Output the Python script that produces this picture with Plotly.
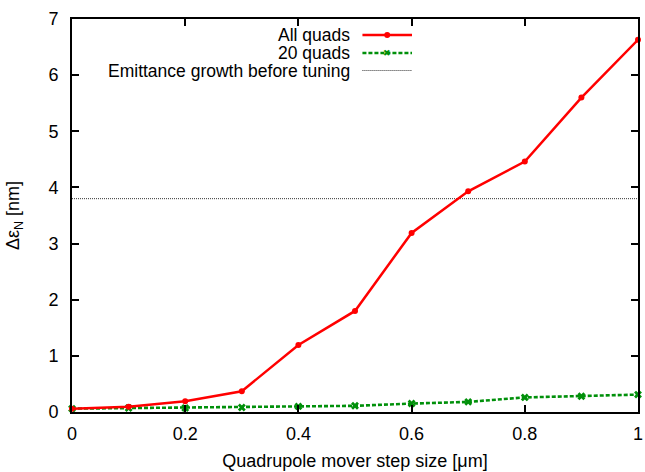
import plotly.graph_objects as go

step_size = [0.0, 0.1, 0.2, 0.3, 0.4, 0.5, 0.6, 0.7, 0.8, 0.9, 1.0]
all_quads = [0.06, 0.095, 0.19, 0.37, 1.195, 1.80, 3.19, 3.93, 4.46, 5.60, 6.63]
quads20 = [0.06, 0.07, 0.07, 0.08, 0.10, 0.11, 0.15, 0.18, 0.26, 0.28, 0.31]
growth_before_tuning = 3.80

x_ticks = [0, 0.2, 0.4, 0.6, 0.8, 1]
x_tick_labels = ["0", "0.2", "0.4", "0.6", "0.8", "1"]
y_ticks = [0, 1, 2, 3, 4, 5, 6, 7]

legend_labels = ["All quads", "20 quads", "Emittance growth before tuning"]

FONT = "Liberation Sans, Arial, Helvetica, sans-serif"
FS = 18
LFS = 17.5
RED = "#ff0000"
GREEN = "#00900a"

fig = go.Figure()

fig.add_trace(go.Scatter(
    x=[step_size[0], step_size[-1]], y=[growth_before_tuning, growth_before_tuning],
    mode="lines", line=dict(color="#333333", width=1, dash="1px,1px"),
    showlegend=False, hoverinfo="skip"))

fig.add_trace(go.Scatter(
    x=step_size, y=quads20, mode="lines+markers",
    line=dict(color=GREEN, width=2.6, dash="4px,2px"),
    marker=dict(symbol="x", size=7, color=GREEN, line=dict(width=0)),
    showlegend=False, cliponaxis=False))

fig.add_trace(go.Scatter(
    x=step_size, y=all_quads, mode="lines+markers",
    line=dict(color=RED, width=2.5),
    marker=dict(symbol="circle", size=6, color=RED),
    showlegend=False, cliponaxis=False))

# gnuplot-style key: text right-aligned, sample to the right (paper coordinates)
W, H = 645, 472
L, R, T, B = 72, 2, 19, 60
pw, ph = W - L - R, H - T - B
def px(xp):
    return (xp - L) / pw
def py(yp):
    return 1 - (yp - T) / ph

rows = [35, 53, 70.5]
styles = [
    dict(color=RED, width=2.5, dash="solid"),
    dict(color=GREEN, width=2.6, dash="4px,2px"),
    dict(color="#333333", width=1, dash="1px,1px"),
]
for i, (lab, yy, st) in enumerate(zip(legend_labels, rows, styles)):
    fig.add_annotation(x=px(353), y=py(yy), xref="paper", yref="paper",
                       text=lab, showarrow=False, xanchor="right", yanchor="middle",
                       borderpad=0,
                       font=dict(family=FONT, size=LFS, color="black"))
    fig.add_shape(type="line", xref="paper", yref="paper",
                  x0=px(365), x1=px(415), y0=py(yy), y1=py(yy), line=st)
fig.add_shape(type="circle", xref="paper", yref="paper",
              x0=px(387), x1=px(393), y0=py(rows[0] + 3), y1=py(rows[0] - 3),
              fillcolor=RED, line=dict(width=0))
fig.add_annotation(x=px(390), y=py(rows[1]), xref="paper", yref="paper",
                   text="✖", showarrow=False, xanchor="center", yanchor="middle",
                   borderpad=0,
                   font=dict(family="DejaVu Sans", size=9, color=GREEN))

axis_common = dict(
    showline=True, linecolor="black", linewidth=2, mirror="allticks",
    ticks="inside", ticklen=7, tickwidth=2, tickcolor="black",
    showgrid=False, zeroline=False, ticklabeloverflow="allow",
    tickfont=dict(family=FONT, size=FS, color="black"),
)

fig.update_xaxes(range=[0, 1], tickvals=x_ticks, ticktext=x_tick_labels,
                 ticklabelstandoff=4,
                 title=dict(text="Quadrupole mover step size [μm]",
                            font=dict(family=FONT, size=FS, color="black"), standoff=12),
                 **axis_common)
fig.update_yaxes(range=[0, 7], tickvals=y_ticks, ticklabelstandoff=8,
                 title=dict(text="Δε<sub>N</sub> [nm]",
                            font=dict(family=FONT, size=FS, color="black"), standoff=24),
                 **axis_common)

fig.update_layout(
    width=W, height=H,
    margin=dict(l=L, r=R, t=T, b=B),
    plot_bgcolor="white", paper_bgcolor="white",
    font=dict(family=FONT, size=FS, color="black"),
    showlegend=False,
)

fig.write_html("out.html")
